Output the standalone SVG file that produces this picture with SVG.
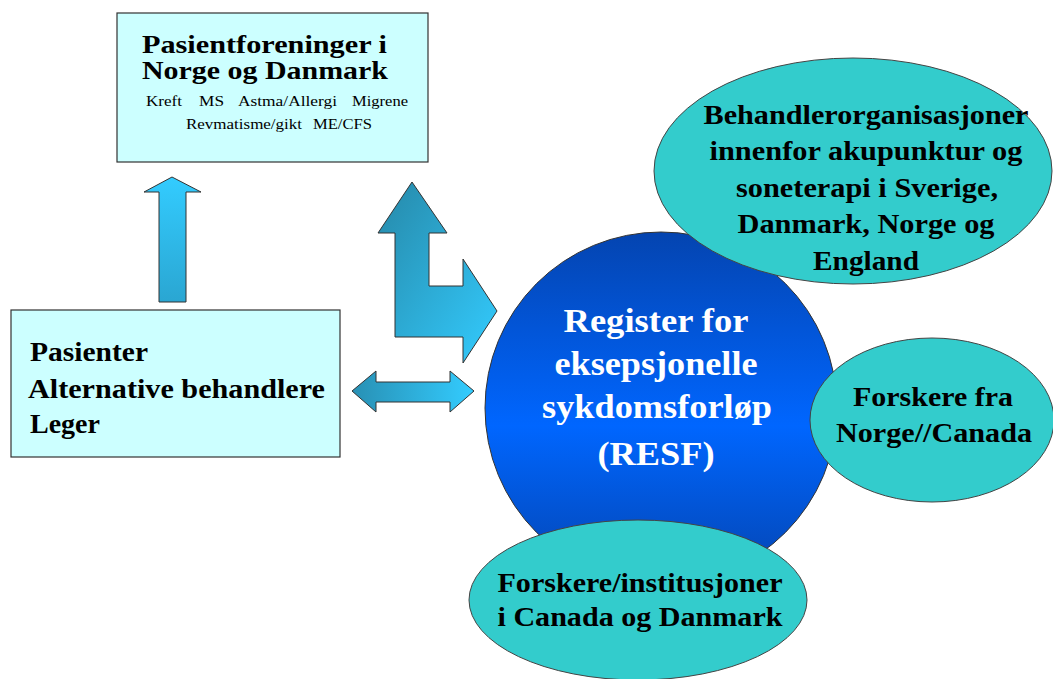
<svg xmlns="http://www.w3.org/2000/svg" width="1053" height="679" viewBox="0 0 1053 679">
<defs>
<linearGradient id="gUp" x1="0" y1="0" x2="0" y2="1"><stop offset="0" stop-color="#33CCFF"/><stop offset="1" stop-color="#2AA6D2"/></linearGradient>
<linearGradient id="gL" x1="0" y1="0" x2="1" y2="1"><stop offset="0" stop-color="#2688A8"/><stop offset="1" stop-color="#33CCFF"/></linearGradient>
<linearGradient id="gH" x1="0" y1="0" x2="1" y2="0"><stop offset="0" stop-color="#2890B4"/><stop offset="1" stop-color="#33CCFF"/></linearGradient>
<linearGradient id="gC" x1="0" y1="0" x2="0" y2="1"><stop offset="0" stop-color="#0444B0"/><stop offset="0.55" stop-color="#0066FF"/><stop offset="1" stop-color="#0444B0"/></linearGradient>
<style>
.box{fill:#CCFFFF;stroke:#333;stroke-width:1.2}
.ell{fill:#33CCCC;stroke:#444;stroke-width:1}
.arr{stroke:#333;stroke-width:1}
.t{font-family:"Liberation Serif","Times New Roman",serif;font-weight:bold;fill:#000}
.s{font-family:"Liberation Serif","Times New Roman",serif;font-size:14px;fill:#000}
.w{font-family:"Liberation Serif","Times New Roman",serif;font-weight:bold;fill:#fff;font-size:34px}
.m{text-anchor:middle}
</style>
</defs>
<rect width="1053" height="679" fill="#fff"/>
<g id="connectors">
<polygon class="arr" fill="url(#gUp)" points="172,177 201,192 186,192 186,302 159,302 159,192 144,192"/>
<polygon class="arr" fill="url(#gL)" points="412,182 447,233 429,233 429,286 463,286 463,259 497,311 463,363 463,337 395,337 395,233 378,233"/>
<polygon class="arr" fill="url(#gH)" points="352,391 376,371 376,382 450,382 450,371 474,391 450,412 450,402 376,402 376,412"/>
</g>
<g id="pasientforeninger">
<rect class="box" x="117" y="13" width="311" height="149"/>
<text class="t" font-size="25" x="142" y="53" textLength="245" lengthAdjust="spacingAndGlyphs">Pasientforeninger i</text>
<text class="t" font-size="25" x="142" y="79" textLength="246" lengthAdjust="spacingAndGlyphs">Norge og Danmark</text>
<text class="s" x="146" y="106" textLength="36" lengthAdjust="spacingAndGlyphs">Kreft</text>
<text class="s" x="199" y="106" textLength="25" lengthAdjust="spacingAndGlyphs">MS</text>
<text class="s" x="238" y="106" textLength="99" lengthAdjust="spacingAndGlyphs">Astma/Allergi</text>
<text class="s" x="352" y="106" textLength="56" lengthAdjust="spacingAndGlyphs">Migrene</text>
<text class="s" x="186" y="129" textLength="116" lengthAdjust="spacingAndGlyphs">Revmatisme/gikt</text>
<text class="s" x="313" y="129" textLength="59" lengthAdjust="spacingAndGlyphs">ME/CFS</text>
</g>
<g id="pasienter">
<rect class="box" x="11" y="310" width="329" height="147"/>
<text class="t" font-size="28" x="30" y="361" textLength="118" lengthAdjust="spacingAndGlyphs">Pasienter</text>
<text class="t" font-size="28" x="28" y="398" textLength="297" lengthAdjust="spacingAndGlyphs">Alternative behandlere</text>
<text class="t" font-size="28" x="30" y="433" textLength="70" lengthAdjust="spacingAndGlyphs">Leger</text>
</g>
<g id="resf">
<circle cx="661" cy="408" r="176" fill="url(#gC)" stroke="#333" stroke-width="1"/>
<text class="w m" x="656" y="332" textLength="185" lengthAdjust="spacingAndGlyphs">Register for</text>
<text class="w m" x="656" y="375" textLength="203" lengthAdjust="spacingAndGlyphs">eksepsjonelle</text>
<text class="w m" x="657" y="418" textLength="230" lengthAdjust="spacingAndGlyphs">sykdomsforløp</text>
<text class="w m" x="656" y="465" textLength="117" lengthAdjust="spacingAndGlyphs">(RESF)</text>
</g>
<g id="behandlerorganisasjoner">
<ellipse class="ell" cx="853" cy="171" rx="199" ry="113"/>
<text class="t m" font-size="27" x="866" y="124" textLength="325" lengthAdjust="spacingAndGlyphs">Behandlerorganisasjoner</text>
<text class="t m" font-size="27" x="866" y="160" textLength="313" lengthAdjust="spacingAndGlyphs">innenfor akupunktur og</text>
<text class="t m" font-size="27" x="867" y="197" textLength="262" lengthAdjust="spacingAndGlyphs">soneterapi i Sverige,</text>
<text class="t m" font-size="27" x="866" y="233" textLength="257" lengthAdjust="spacingAndGlyphs">Danmark, Norge og</text>
<text class="t m" font-size="27" x="866" y="270" textLength="106" lengthAdjust="spacingAndGlyphs">England</text>
</g>
<g id="forskere-norge-canada">
<ellipse class="ell" cx="932" cy="420" rx="122" ry="82"/>
<text class="t m" font-size="27" x="933" y="406" textLength="160" lengthAdjust="spacingAndGlyphs">Forskere fra</text>
<text class="t m" font-size="27" x="934" y="442" textLength="196" lengthAdjust="spacingAndGlyphs">Norge//Canada</text>
</g>
<g id="forskere-institusjoner">
<ellipse class="ell" cx="638" cy="600" rx="169" ry="80"/>
<text class="t m" font-size="27" x="640" y="592" textLength="285" lengthAdjust="spacingAndGlyphs">Forskere/institusjoner</text>
<text class="t m" font-size="27" x="640" y="626" textLength="285" lengthAdjust="spacingAndGlyphs">i Canada og Danmark</text>
</g>
</svg>
